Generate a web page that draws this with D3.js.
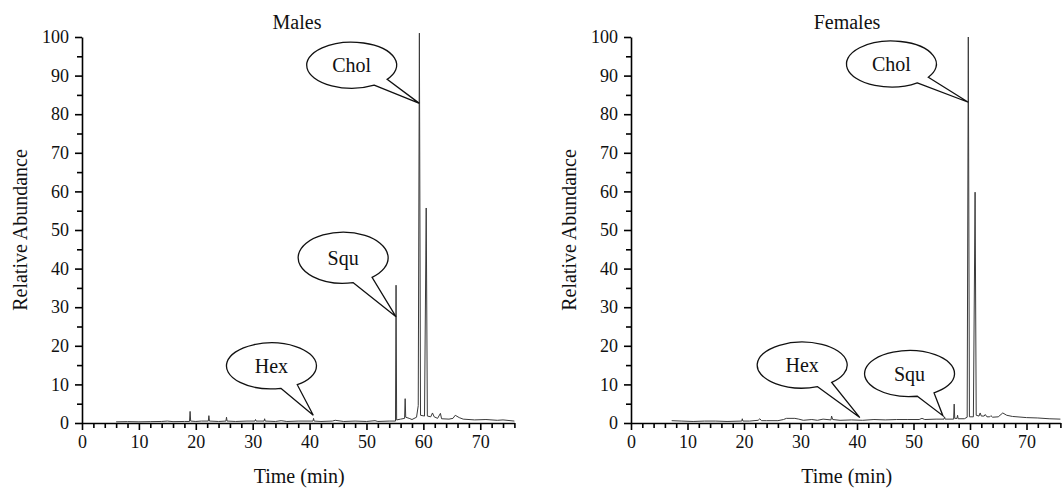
<!DOCTYPE html>
<html><head><meta charset="utf-8">
<script src="https://cdn.jsdelivr.net/npm/d3@7"></script>
<style>
html,body{margin:0;padding:0;background:#fff;}
svg{display:block;}
text{font-family:"Liberation Serif","Tinos","Times New Roman","DejaVu Serif","Noto Serif",serif;fill:#111;}
</style></head>
<body>
<svg id="c" width="1062" height="488"></svg>
<script>
// ---- data ----
const panelTitles = ["Males", "Females"];
const xTickLabels = [0, 10, 20, 30, 40, 50, 60, 70];
const yTickLabels = [0, 10, 20, 30, 40, 50, 60, 70, 80, 90, 100];
const xLabel = "Time (min)";
const yLabel = "Relative Abundance";

const maleTime = [6.0,8,10,12,14,15,16,18,18.9,19.0,19.1,20,21,22.2,22.3,22.4,24,25.3,25.4,25.5,27,29,30.4,30.5,30.6,32,32.1,32.2,34,35,36,38,40.6,40.7,40.8,42,44,44.5,46,48,50,51.5,52,54,55.1,55.2,55.3,56,56.7,56.8,56.9,57.5,58,58.8,59.1,59.3,59.5,60.2,60.5,60.7,61.3,61.6,61.9,62.5,63.0,63.2,64.5,65.2,65.6,66.3,67,69,71,73,74,76];
const maleAbund = [0.3,0.35,0.3,0.35,0.4,0.5,0.35,0.4,0.4,3.0,0.5,0.4,0.5,0.5,1.9,0.5,0.4,0.5,1.5,0.5,0.4,0.5,0.5,0.9,0.5,0.5,1.1,0.5,0.4,0.6,0.4,0.5,0.5,1.2,0.5,0.4,0.5,0.7,0.4,0.5,0.4,0.6,0.4,0.5,0.5,35.7,0.8,1.0,1.2,6.3,1.5,1.2,0.9,1.5,4.5,101,2.0,1.8,55.7,1.8,1.6,2.6,1.6,1.2,2.5,1.1,1.0,1.2,2.0,1.4,1.0,0.8,0.9,0.7,0.8,0.5];

const femaleTime = [7.2,9,11,13,15,17,19.6,19.7,19.8,21,22.5,22.8,23.1,24,26,27,27.5,29,29.7,30.5,32,33,34,35.4,35.5,35.7,37,39,41,43,45,47,49,51,51.5,52,54,55.4,55.5,55.6,57.1,57.2,57.3,57.7,57.8,57.9,59,59.5,59.7,59.9,60.6,60.9,61.1,61.6,61.8,62,62.5,62.7,63,63.5,63.7,64,65,65.8,66.5,67.5,70,72,74,76];
const femaleAbund = [0.6,0.5,0.4,0.5,0.5,0.4,0.5,1.1,0.5,0.5,0.7,1.1,0.6,0.6,0.6,0.9,1.2,1.2,1.0,0.7,0.9,0.7,1.0,0.8,1.8,0.9,0.7,0.8,0.7,0.9,0.8,0.9,0.9,0.9,1.2,0.9,1.0,1.0,1.6,1.0,1.0,4.9,1.2,1.2,2.0,1.1,1.1,1.5,100,1.6,1.6,59.8,2.0,1.8,2.6,1.8,1.8,2.2,1.6,1.6,1.9,1.5,1.6,2.6,2.0,1.7,1.4,1.3,1.1,1.0];

// callouts: label, ellipse centre (time, abundance), tip (time, abundance)
const maleCallouts = [
  {label:"Chol", cx:47.4, cy:92.7, tx:59.3, ty:82.8},
  {label:"Squ",  cx:45.9, cy:42.8, tx:55.2, ty:27.5},
  {label:"Hex",  cx:33.3, cy:14.8, tx:40.65, ty:2.0}
];
const femaleCallouts = [
  {label:"Chol", cx:46.1, cy:93.0, tx:59.7, ty:83.1},
  {label:"Hex",  cx:30.3, cy:15.0, tx:40.5, ty:1.4},
  {label:"Squ",  cx:49.3, cy:12.8, tx:55.2, ty:1.9}
];

// ---- layout (styles / positions) ----
const FONT = '"Liberation Serif","Tinos","Times New Roman","DejaVu Serif","Noto Serif",serif';
const panels = [
  {title:panelTitles[0], time:maleTime, abund:maleAbund, callouts:maleCallouts,
   xr:[82, 514.4], yr:[423, 37], titleX:297, ylabX:20,
   tails:[[60,38],[77,50],[78,55]], ry:[23,25.5,23]},
  {title:panelTitles[1], time:femaleTime, abund:femaleAbund, callouts:femaleCallouts,
   xr:[631, 1060.4], yr:[423, 37], titleX:847, ylabX:569,
   tails:[[55,35],[70,49],[80,57]], ry:[23,23,23]}
];

const svg = d3.select("#c");
const xMinor = d3.range(0, 77, 2).filter(v => v % 10 !== 0);
const yMinor = d3.range(5, 100, 10);

panels.forEach(p => {
  const x = d3.scaleLinear().domain([0, 76]).range(p.xr);
  const y = d3.scaleLinear().domain([0, 100]).range(p.yr);
  const g = svg.append("g");

  // trace
  const pts = p.time.map((t, i) => [t, p.abund[i]]);
  g.append("path").datum(pts)
    .attr("d", d3.line().x(d => x(d[0])).y(d => y(d[1])))
    .attr("fill", "none").attr("stroke", "#3a3a3a").attr("stroke-width", 1);

  // axes
  const styleAxis = sel => {
    sel.attr("font-family", null).attr("font-size", null);
    sel.selectAll("path,line").attr("stroke", "#000").attr("stroke-width", 1.6);
    sel.selectAll("text").style("font-family", FONT)
      .style("font-size", "18px").attr("fill", "#111");
  };
  g.append("g").attr("transform", `translate(0,${y(0)})`)
    .call(d3.axisBottom(x).tickValues(xMinor).tickSize(5).tickFormat("").tickSizeOuter(0))
    .call(styleAxis).call(s => s.select(".domain").remove());
  g.append("g").attr("transform", `translate(0,${y(0)})`)
    .call(d3.axisBottom(x).tickValues(xTickLabels).tickSize(7).tickPadding(5).tickSizeOuter(0))
    .call(styleAxis);
  g.append("g").attr("transform", `translate(${x(0)},0)`)
    .call(d3.axisLeft(y).tickValues(yMinor).tickSize(5).tickFormat("").tickSizeOuter(0))
    .call(styleAxis).call(s => s.select(".domain").remove());
  g.append("g").attr("transform", `translate(${x(0)},0)`)
    .call(d3.axisLeft(y).tickValues(yTickLabels).tickSize(7).tickPadding(6).tickSizeOuter(0))
    .call(styleAxis);

  // titles
  g.append("text").attr("x", p.titleX).attr("y", 29).attr("text-anchor", "middle")
    .style("font-family", FONT).style("font-size", "20px").text(p.title);
  g.append("text").attr("x", (p.xr[0] + p.xr[1]) / 2 + 1).attr("y", 483).attr("text-anchor", "middle")
    .style("font-family", FONT).style("font-size", "20px").text(xLabel);
  g.append("text").attr("transform", `translate(${p.ylabX},${(y(0)+y(100))/2}) rotate(-90)`)
    .attr("text-anchor", "middle").attr("dy", "0.35em")
    .style("font-family", FONT).style("font-size", "20px").text(yLabel);

  // callouts
  p.callouts.forEach((c, i) => {
    const cx = x(c.cx), cy = y(c.cy), rx = 45, ry = p.ry[i];
    const tx = x(c.tx), ty = y(c.ty);
    const [a1, a2] = p.tails[i].map(a => a * Math.PI / 180);
    const p1 = [cx + rx * Math.cos(a1), cy + ry * Math.sin(a1)];
    const p2 = [cx + rx * Math.cos(a2), cy + ry * Math.sin(a2)];
    const d = `M${p1[0]},${p1[1]} L${tx},${ty} L${p2[0]},${p2[1]} A${rx},${ry} 0 1 0 ${p1[0]},${p1[1]} Z`;
    g.append("path").attr("d", d).attr("fill", "#fff").attr("stroke", "#111").attr("stroke-width", 1.3)
      .attr("stroke-linejoin", "miter");
    g.append("text").attr("x", cx).attr("y", cy).attr("dy", "0.35em").attr("text-anchor", "middle")
      .style("font-family", FONT).style("font-size", "20px").text(c.label);
  });
});
</script>
</body></html>
